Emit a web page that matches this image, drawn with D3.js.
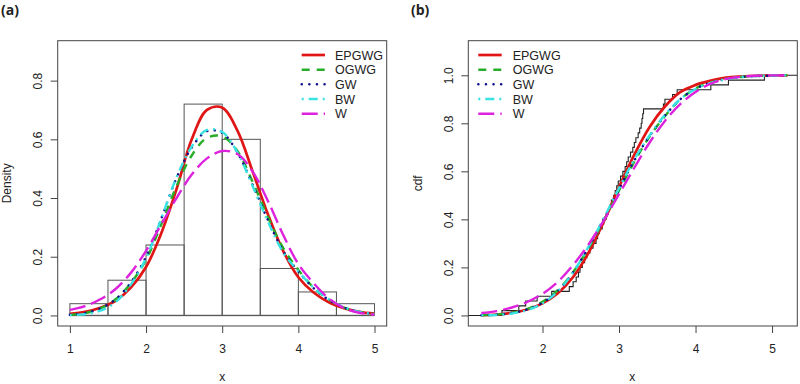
<html>

<head>
    <style>
        body {
            margin: 0;
            background: white;
            font-family: "Liberation Sans", Arial, Helvetica, sans-serif;
        }

        svg text {
            fill: #222;
        }
    </style>
    <script src="https://cdn.jsdelivr.net/npm/d3@7"></script>
</head>

<body>
    <svg id="chart" width="800" height="384"></svg>
    <script>
    /* Data ---------------------------------------------------------------- */
    let modelNames = ["EPGWG", "OGWG", "GW", "BW", "W"]

    // histogram (panel a)
    let histBreaks = [1, 1.5, 2, 2.5, 3, 3.5, 4, 4.5, 5]
    let histDensity = [0.04, 0.12, 0.24, 0.72, 0.60, 0.16, 0.08, 0.04]

    // fitted densities (panel a)
    let pdfX = [1.0, 1.2, 1.4, 1.6, 1.8, 2.0, 2.2, 2.4, 2.6, 2.8, 3.0, 3.2, 3.4, 3.6, 3.8, 4.0, 4.2, 4.4, 4.6, 4.8, 5.0]
    let pdfEPGWG = [0.005, 0.012, 0.026, 0.05, 0.095, 0.165, 0.28, 0.43, 0.6, 0.7, 0.708, 0.63, 0.49, 0.345, 0.22, 0.13, 0.078, 0.045, 0.025, 0.012, 0.006]
    let pdfOGWG = [0.002, 0.008, 0.024, 0.055, 0.11, 0.19, 0.31, 0.44, 0.545, 0.605, 0.61, 0.56, 0.455, 0.335, 0.23, 0.155, 0.095, 0.054, 0.027, 0.012, 0.005]
    let pdfGW = [0.002, 0.008, 0.024, 0.055, 0.112, 0.2, 0.33, 0.468, 0.572, 0.628, 0.622, 0.555, 0.445, 0.325, 0.22, 0.15, 0.093, 0.053, 0.027, 0.012, 0.005]
    let pdfBW = [0.001, 0.004, 0.016, 0.045, 0.105, 0.195, 0.33, 0.47, 0.575, 0.632, 0.625, 0.555, 0.44, 0.32, 0.215, 0.15, 0.095, 0.055, 0.028, 0.012, 0.004]
    let pdfW = [0.019, 0.032, 0.055, 0.09, 0.145, 0.22, 0.31, 0.4, 0.48, 0.535, 0.56, 0.55, 0.49, 0.39, 0.275, 0.175, 0.11, 0.058, 0.025, 0.009, 0.003]

    // fitted cdfs (panel b)
    let cdfX = [1.2, 1.4, 1.6, 1.8, 2.0, 2.2, 2.4, 2.6, 2.8, 3.0, 3.2, 3.4, 3.6, 3.8, 4.0, 4.2, 4.4, 4.6, 4.8, 5.0, 5.2]
    let cdfEPGWG = [0.001, 0.004, 0.011, 0.025, 0.05, 0.092, 0.16, 0.26, 0.39, 0.535, 0.67, 0.785, 0.87, 0.93, 0.96, 0.978, 0.99, 0.995, 0.998, 0.999, 1.0]
    let cdfOGWG = [0.001, 0.004, 0.011, 0.027, 0.057, 0.105, 0.18, 0.28, 0.395, 0.52, 0.64, 0.745, 0.83, 0.9, 0.945, 0.97, 0.985, 0.993, 0.997, 0.999, 1.0]
    let cdfGW = [0.001, 0.003, 0.01, 0.025, 0.053, 0.102, 0.18, 0.283, 0.4, 0.525, 0.645, 0.748, 0.832, 0.9, 0.944, 0.969, 0.984, 0.993, 0.997, 0.999, 1.0]
    let cdfBW = [0.0005, 0.002, 0.008, 0.022, 0.05, 0.1, 0.18, 0.285, 0.405, 0.53, 0.65, 0.75, 0.835, 0.9, 0.943, 0.968, 0.984, 0.993, 0.997, 0.999, 1.0]
    let cdfW = [0.01, 0.018, 0.033, 0.056, 0.09, 0.14, 0.21, 0.295, 0.395, 0.505, 0.615, 0.72, 0.81, 0.88, 0.93, 0.965, 0.985, 0.994, 0.998, 0.9995, 1.0]

    // sorted observations behind the empirical cdf (panel b)
    let sample = [1.47, 1.69, 1.78, 1.93, 2.12, 2.35, 2.40, 2.44, 2.47, 2.49,
        2.52, 2.55, 2.58, 2.62, 2.66, 2.70, 2.72, 2.74, 2.78, 2.80,
        2.83, 2.86, 2.88, 2.90, 2.93, 2.95, 2.97, 2.99, 3.02, 3.05,
        3.08, 3.10, 3.12, 3.15, 3.18, 3.20, 3.22, 3.25, 3.27, 3.29,
        3.30, 3.31, 3.32, 3.58, 3.60, 3.70, 3.76, 4.20, 4.43, 4.90]

    // axis ticks
    let xTicksA = [1, 2, 3, 4, 5]
    let yTicksA = [0, 0.2, 0.4, 0.6, 0.8]
    let xTicksB = [2, 3, 4, 5]
    let yTicksB = [0, 0.2, 0.4, 0.6, 0.8, 1.0]

    /* Line styles ----------------------------------------------------------- */
    let styles = {
        EPGWG: { color: "#e01515", width: 2.7, dash: null, cap: "butt" },
        OGWG: { color: "#28ad28", width: 2.4, dash: "8,7", cap: "butt" },
        GW: { color: "#12128a", width: 2.5, dash: "0.1,7.5", cap: "round" },
        BW: { color: "#38e2e2", width: 2.4, dash: "2,5,9,5", cap: "butt" },
        W: { color: "#dd22dd", width: 2.4, dash: "16,6", cap: "butt" }
    }

    let svg = d3.select("#chart")

    function fmt(d) { return d3.format(".1f")(d) }

    /* Generic panel: box, axes, titles -------------------------------------- */
    function drawFrame(cfg) {
        let { x, y, box, id } = cfg
        let g = svg.append("g")

        svg.append("defs").append("clipPath").attr("id", id)
            .append("rect")
            .attr("x", box.left).attr("y", box.top)
            .attr("width", box.right - box.left).attr("height", box.bottom - box.top)

        let axisX = d3.axisBottom(x).tickValues(cfg.xTicks).tickSize(7).tickFormat(d3.format("d"))
        let ax = g.append("g").attr("transform", `translate(0,${box.bottom})`).call(axisX)
        ax.select(".domain").remove()
        ax.selectAll("line").attr("stroke", "#444")
        ax.selectAll("text").attr("y", 27).attr("dy", 0)
            .style("font-size", "12px").style("font-family", "Liberation Sans, Arial").attr("fill", "#222")

        let axisY = d3.axisLeft(y).tickValues(cfg.yTicks).tickSize(7).tickFormat(fmt)
        let ay = g.append("g").attr("transform", `translate(${box.left},0)`).call(axisY)
        ay.select(".domain").remove()
        ay.selectAll("line").attr("stroke", "#444")
        ay.selectAll("text")
            .attr("transform", "rotate(-90)")
            .attr("x", 0).attr("y", -15.5).attr("dy", 0)
            .style("text-anchor", "middle")
            .style("font-size", "12px").style("font-family", "Liberation Sans, Arial").attr("fill", "#222")

        g.append("rect")
            .attr("x", box.left).attr("y", box.top)
            .attr("width", box.right - box.left).attr("height", box.bottom - box.top)
            .attr("fill", "none").attr("stroke", "#444").attr("stroke-width", 1)

        // axis titles
        g.append("text")
            .attr("x", (box.left + box.right) / 2 + cfg.xTitleShift).attr("y", 381)
            .attr("text-anchor", "middle").style("font-size", "12px")
            .text("x")
        g.append("text")
            .attr("transform", `translate(${cfg.yTitleX},${(box.top + box.bottom) / 2}) rotate(-90)`)
            .attr("text-anchor", "middle").style("font-size", "12px")
            .text(cfg.yTitle)

        // panel label
        g.append("text")
            .attr("x", cfg.labelX).attr("y", 15)
            .style("font-size", "14px").style("font-weight", "bold")
            .style("font-family", "'Open Sans', 'DejaVu Sans', sans-serif")
            .attr("fill", "#111")
            .text(cfg.label)
        return g
    }

    function drawModelLines(g, xs, seriesList, x, y, clipId) {
        let line = d3.line()
            .x(d => x(d[0]))
            .y(d => y(d[1]))
            .curve(d3.curveCatmullRom.alpha(0.5))
        let body = g.append("g").attr("clip-path", `url(#${clipId})`)
        modelNames.forEach((name, i) => {
            let st = styles[name]
            let pts = xs.map((v, k) => [v, seriesList[i][k]])
            body.append("path")
                .datum(pts)
                .attr("d", line)
                .attr("fill", "none")
                .attr("stroke", st.color)
                .attr("stroke-width", st.width)
                .attr("stroke-dasharray", st.dash)
                .attr("stroke-linecap", st.cap)
        })
    }

    function drawLegend(g, lineX1, lineX2, textX) {
        let rowY = [55, 69.7, 84.3, 99, 113.7]
        modelNames.forEach((name, i) => {
            let st = styles[name]
            g.append("line")
                .attr("x1", lineX1).attr("x2", lineX2)
                .attr("y1", rowY[i]).attr("y2", rowY[i])
                .attr("stroke", st.color)
                .attr("stroke-width", st.width)
                .attr("stroke-dasharray", st.dash)
                .attr("stroke-linecap", st.cap)
            g.append("text")
                .attr("x", textX).attr("y", rowY[i]).attr("dy", "0.36em")
                .style("font-size", "12.5px")
                .text(name)
        })
    }

    /* Panel (a): histogram + densities -------------------------------------- */
    function drawDensityPanel() {
        let box = { left: 57.7, right: 386.7, top: 40.7, bottom: 326 }
        let x = d3.scaleLinear().domain([0.84, 5.16]).range([box.left, box.right])
        let y = d3.scaleLinear().domain([-0.036, 0.936]).range([box.bottom, box.top])

        let g = drawFrame({
            x, y, box, id: "clipA", xTicks: xTicksA, yTicks: yTicksA,
            yTitle: "Density", yTitleX: 11, xTitleShift: 0, label: "(a)", labelX: 1
        })

        // baseline under the bars
        g.append("line")
            .attr("x1", x(1)).attr("x2", x(5))
            .attr("y1", y(0)).attr("y2", y(0))
            .attr("stroke", "#9a9a9a").attr("stroke-width", 1.6)

        g.selectAll(".bar")
            .data(histDensity)
            .enter().append("rect")
            .attr("class", "bar")
            .attr("x", (d, i) => x(histBreaks[i]))
            .attr("width", (d, i) => x(histBreaks[i + 1]) - x(histBreaks[i]))
            .attr("y", d => y(d))
            .attr("height", d => y(0) - y(d))
            .attr("fill", "none")
            .attr("stroke", "#555")
            .attr("stroke-width", 1)

        drawModelLines(g, pdfX, [pdfEPGWG, pdfOGWG, pdfGW, pdfBW, pdfW], x, y, "clipA")
        drawLegend(g, 301.7, 325, 335)
    }

    /* Panel (b): empirical cdf + fitted cdfs -------------------------------- */
    function drawCdfPanel() {
        let box = { left: 468.3, right: 797.3, top: 40.7, bottom: 326 }
        let x = d3.scaleLinear().domain([1.03, 5.33]).range([box.left, box.right])
        let y = d3.scaleLinear().domain([-0.044, 1.144]).range([box.bottom, box.top])

        let g = drawFrame({
            x, y, box, id: "clipB", xTicks: xTicksB, yTicks: yTicksB,
            yTitle: "cdf", yTitleX: 422, xTitleShift: -0.5, label: "(b)", labelX: 411
        })

        // empirical cdf as a step line
        let n = sample.length
        let steps = [[x.domain()[0], 0]]
        sample.forEach((v, i) => steps.push([v, (i + 1) / n]))
        steps.push([x.domain()[1], 1])
        let stepLine = d3.line()
            .x(d => x(d[0]))
            .y(d => y(d[1]))
            .curve(d3.curveStepAfter)
        g.append("g").attr("clip-path", "url(#clipB)")
            .append("path")
            .datum(steps)
            .attr("d", stepLine)
            .attr("fill", "none")
            .attr("stroke", "#222")
            .attr("stroke-width", 1.1)

        drawModelLines(g, cdfX, [cdfEPGWG, cdfOGWG, cdfGW, cdfBW, cdfW], x, y, "clipB")
        drawLegend(g, 478.3, 501.7, 512.7)
    }

    drawDensityPanel()
    drawCdfPanel()
    </script>
</body>

</html>
